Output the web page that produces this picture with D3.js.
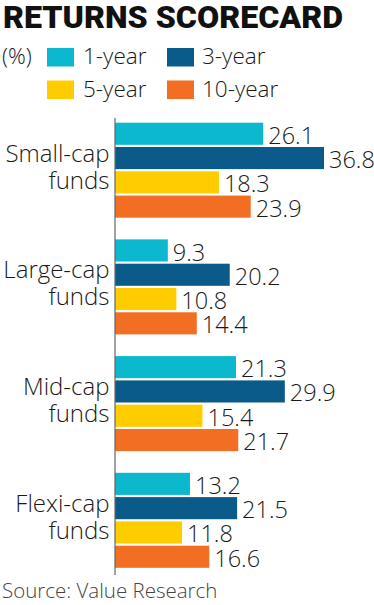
<!DOCTYPE html>
<html>
<head>
<meta charset="utf-8">
<script src="https://cdn.jsdelivr.net/npm/d3@7"></script>
<style>
  html, body { margin: 0; padding: 0; background: #fff; }
  svg { display: block; font-family: "Open Sans", sans-serif; font-weight: 300; }
</style>
</head>
<body>
<svg width="374" height="605"></svg>
<script>
// chart data
const funds = ['Small-cap', 'Large-cap', 'Mid-cap', 'Flexi-cap'];
const periods = ['1-year', '3-year', '5-year', '10-year'];
const oneYear = [26.1, 9.3, 21.3, 13.2];
const threeYear = [36.8, 20.2, 29.9, 21.5];
const fiveYear = [18.3, 10.8, 15.4, 11.8];
const tenYear = [23.9, 14.4, 21.7, 16.6];
const colours = ['#0bb8ce', '#0a5a8a', '#ffcc00', '#f26e22'];

const series = [oneYear, threeYear, fiveYear, tenYear];
const rows = funds.map((f, i) => ({
    name: f,
    values: periods.map((p, j) => ({ period: p, value: series[j][i] }))
}));

const svg = d3.select('svg');
const axisX = 115;

// title
svg.append('text')
    .attr('x', 3).attr('y', 28)
    .attr('font-family', 'Roboto, sans-serif')
    .attr('font-weight', 900)
    .attr('font-size', 31)
    .attr('textLength', 340)
    .attr('lengthAdjust', 'spacingAndGlyphs')
    .attr('fill', '#111')
    .text('RETURNS SCORECARD');

// legend
svg.append('text')
    .attr('x', 2).attr('y', 64)
    .attr('font-size', 22)
    .attr('fill', '#1a1a1a')
    .text('(%)');

const legend = svg.append('g').selectAll('g')
    .data(periods)
    .enter().append('g')
    .attr('transform', (d, i) => 'translate(' + (i % 2 ? 167 : 47) + ',' + (i < 2 ? 48 : 80.5) + ')');

legend.append('rect')
    .attr('width', 27).attr('height', 18.5)
    .attr('fill', (d, i) => colours[i]);

legend.append('text')
    .attr('x', (d, i) => i % 2 ? 35 : 36)
    .attr('y', 16)
    .attr('font-size', 22.5)
    .attr('fill', '#1a1a1a')
    .text(d => d);

// scales
const x = d3.scaleLinear().domain([0, 40]).range([axisX, axisX + 40 * 5.68]);
const y = d3.scaleBand().domain(funds).range([122.7, 567.8]).paddingInner(0.186);
const yIn = d3.scaleBand().domain(periods).range([0, y.bandwidth()]).paddingInner(0.09);

const group = svg.append('g').selectAll('g')
    .data(rows)
    .enter().append('g')
    .attr('transform', d => 'translate(0,' + y(d.name) + ')');

group.selectAll('rect')
    .data(d => d.values)
    .enter().append('rect')
    .attr('x', x(0))
    .attr('y', d => yIn(d.period))
    .attr('width', d => x(d.value) - x(0))
    .attr('height', yIn.bandwidth())
    .attr('fill', (d, i) => colours[i]);

group.selectAll('text.val')
    .data(d => d.values)
    .enter().append('text')
    .attr('class', 'val')
    .attr('x', d => x(d.value) + 5)
    .attr('y', d => yIn(d.period) + yIn.bandwidth() - 1)
    .attr('font-size', 23.5)
    .attr('fill', '#1a1a1a')
    .text(d => d.value.toFixed(1));

// category labels, two lines each
group.append('text')
    .attr('text-anchor', 'end')
    .attr('x', 109.5)
    .attr('y', y.bandwidth() / 2 - 8.5)
    .attr('font-size', 24)
    .attr('fill', '#1a1a1a')
    .text(d => d.name);
group.append('text')
    .attr('text-anchor', 'end')
    .attr('x', 109.5)
    .attr('y', y.bandwidth() / 2 + 18.5)
    .attr('font-size', 24)
    .attr('fill', '#1a1a1a')
    .text('funds');

// axis line
svg.append('line')
    .attr('x1', axisX).attr('x2', axisX)
    .attr('y1', 118).attr('y2', 575)
    .attr('stroke', '#666')
    .attr('stroke-width', 1.2);

// source
svg.append('text')
    .attr('x', 2).attr('y', 598)
    .attr('font-size', 20.5)
    .attr('fill', '#444')
    .text('Source: Value Research');
</script>
</body>
</html>
